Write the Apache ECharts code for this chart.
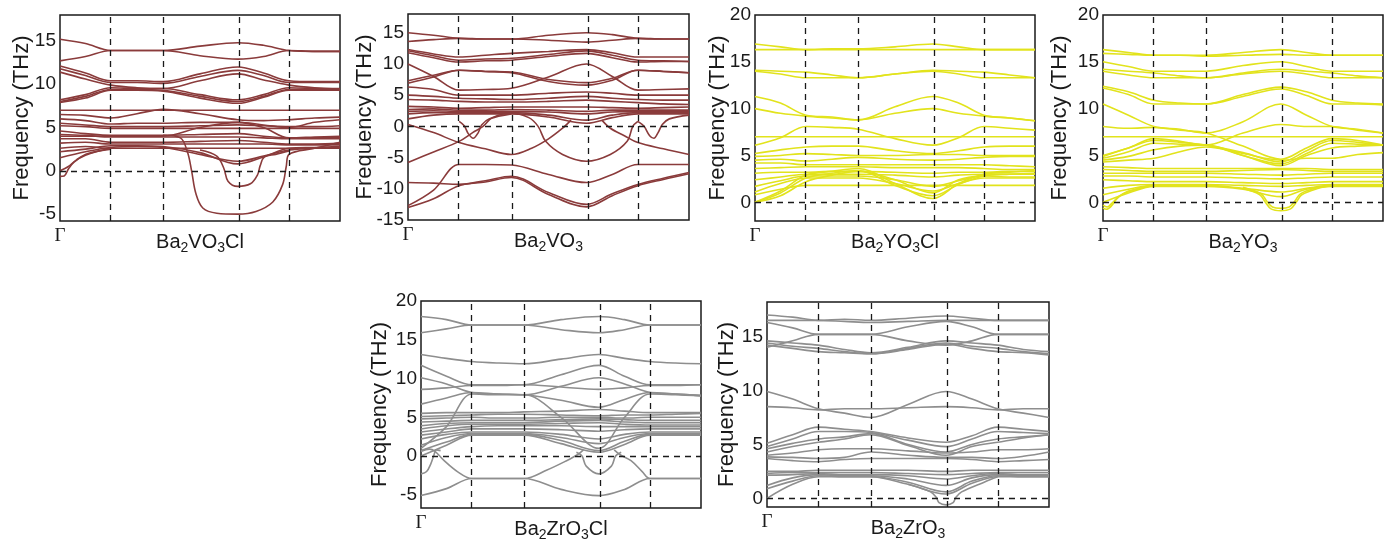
<!DOCTYPE html>
<html><head><meta charset="utf-8">
<script src="https://cdn.jsdelivr.net/npm/echarts@6/dist/echarts.min.js"></script>
<style>html,body{margin:0;padding:0;background:#fff}#c{width:1385px;height:544px}</style>
</head><body><div id="c"></div>
<script>
// k-path sample positions (fraction of path) and high-symmetry positions
const K = [0, 0.091, 0.182, 0.275, 0.368, 0.5, 0.635, 0.727, 0.818, 0.909, 1.0];
const kTicks = [0.182, 0.368, 0.635, 0.818];
const kLabel = ['Γ'];

// ---- Ba2VO3Cl ----
const p1Bands = [
[15.2,14.7,13.9,13.9,13.9,14.4,14.8,14.5,13.9,13.8,13.8],
[12.7,13.2,13.9,13.9,13.9,13.3,12.9,13.2,13.9,13.8,13.8],
[12.1,11.3,10.4,10.4,10.3,11.2,12.0,11.3,10.4,10.3,10.3],
[11.8,11.0,10.2,10.2,10.1,10.9,11.6,11.0,10.2,10.2,10.2],
[11.4,10.6,9.9,9.6,9.5,10.4,11.2,10.5,9.9,9.6,9.5],
[8.2,8.8,9.6,9.5,9.5,8.8,8.2,8.8,9.6,9.5,9.4],
[8.0,8.6,9.4,9.4,9.3,8.6,8.0,8.6,9.4,9.4,9.3],
[7.9,8.4,9.3,9.3,9.2,8.4,7.8,8.5,9.3,9.3,9.3],
[7.0,7.0,7.0,7.0,7.0,7.0,7.0,7.0,7.0,7.0,7.0],
[6.5,6.4,6.1,6.6,7.1,6.6,5.9,5.8,5.9,6.1,6.2],
[6.0,5.8,5.4,5.5,5.5,5.6,5.6,5.3,5.0,5.6,5.9],
[5.5,5.3,5.1,5.1,5.1,5.2,5.3,5.2,5.1,5.1,5.2],
[5.2,5.1,4.9,4.9,4.9,4.9,4.9,4.9,4.9,4.9,4.9],
[4.6,4.3,4.1,4.1,4.1,4.2,4.3,4.0,3.8,3.9,4.0],
[4.0,4.0,4.0,4.0,4.0,5.0,5.6,5.0,3.8,3.8,3.8],
[4.2,4.1,3.9,3.9,3.9,3.9,3.9,3.8,3.7,3.7,3.7],
[3.7,3.7,3.3,3.3,3.3,3.4,3.5,3.3,3.1,3.1,3.2],
[3.2,3.3,3.1,3.1,3.1,3.1,3.1,3.1,3.0,3.0,3.0],
[2.6,2.8,2.6,2.6,2.6,2.6,2.6,2.6,2.6,2.6,2.6],
[2.2,2.5,2.9,2.9,2.8,2.1,0.8,1.6,2.6,2.7,2.8],
[1.5,2.2,2.7,2.8,2.7,1.9,1.1,1.7,2.4,2.6,2.7]
];
const p1Extra = [
[[0,-0.65],[0.015,-0.6],[0.03,0.2],[0.05,1.0],[0.091,1.8],[0.182,2.6]],
[[0,0],[0.03,0.5],[0.06,1.3],[0.1,2.0],[0.182,2.5]],
[[0.368,4.1],[0.43,3.8],[0.455,2.2],[0.47,0],[0.485,-2.6],[0.51,-4.3],[0.56,-4.9],[0.635,-5.0],[0.7,-4.7],[0.76,-3.6],[0.795,-1.6],[0.808,0.5],[0.818,1.9],[0.909,2.6],[1.0,3.3]],
[[0.5,2.4],[0.56,1.7],[0.585,0.3],[0.6,-1.2],[0.635,-1.8],[0.68,-1.5],[0.705,-0.5],[0.715,0.6],[0.73,1.6],[0.77,1.9],[0.818,2.3]]
];

// ---- Ba2VO3 ----
const p2Bands = [
[15.0,14.6,14.1,14.0,14.0,14.6,15.0,14.7,14.1,14.0,14.0],
[13.6,13.9,14.1,14.0,14.0,13.8,13.5,13.8,14.1,14.0,14.0],
[12.3,11.6,11.1,11.4,11.7,12.0,12.3,11.8,11.1,11.1,11.1],
[12.1,11.3,10.6,10.8,10.9,11.5,12.1,11.4,10.6,10.5,10.4],
[11.8,11.0,10.3,10.5,10.6,11.2,11.7,11.0,10.3,10.4,10.4],
[10.0,8.0,5.8,5.9,6.1,7.9,10.0,8.0,5.8,5.9,6.0],
[7.3,8.2,9.0,8.8,8.7,7.5,7.0,7.7,9.0,8.8,8.6],
[6.9,7.9,9.0,8.8,8.6,7.2,6.6,7.4,9.0,8.8,8.6],
[6.3,5.9,5.0,5.0,5.0,5.3,5.5,5.3,5.0,5.0,5.0],
[5.0,4.8,4.5,4.4,4.3,4.5,4.8,4.5,4.3,4.2,4.2],
[4.3,4.2,4.0,3.9,3.9,4.0,4.2,4.0,3.8,3.6,3.5],
[3.2,3.1,2.9,3.0,3.1,3.1,3.1,3.0,2.9,3.0,3.1],
[2.7,2.8,2.6,2.6,2.7,2.6,2.4,2.6,2.6,2.6,2.6],
[2.4,2.5,2.4,2.4,2.4,2.3,2.0,2.3,2.4,2.4,2.4],
[2.0,2.2,2.2,2.2,2.2,1.8,1.0,1.8,2.2,2.2,2.2],
[1.2,1.8,2.0,2.0,2.0,1.5,0.5,1.4,2.0,2.0,2.0],
[-12.7,-10.2,-6.1,-6.1,-6.2,-7.7,-9.0,-7.7,-6.1,-6.1,-6.1],
[-9.0,-9.1,-9.3,-8.7,-8.0,-10.6,-12.5,-10.8,-9.3,-8.3,-7.4],
[-13.0,-11.6,-9.5,-8.9,-8.2,-10.9,-12.9,-11.1,-9.5,-8.5,-7.6]
];
const p2Extra = [
[[0,-5.8],[0.091,-4.1],[0.182,-2.4],[0.23,-1.0],[0.267,0],[0.3,1.4],[0.368,2.1],[0.43,1.4],[0.463,0],[0.49,-2.4],[0.55,-4.5],[0.635,-5.6],[0.72,-4.5],[0.78,-2.4],[0.8,0],[0.818,0.8]],
[[0,0.3],[0.091,-1.0],[0.182,-2.6],[0.275,-3.6],[0.368,-4.5],[0.44,-3.5],[0.5,-2.0],[0.55,-0.3],[0.58,1.0]],
[[0.69,1.0],[0.72,-0.3],[0.77,-1.5],[0.818,-2.6],[0.909,-3.6],[1.0,-4.5]],
[[0.182,0.8],[0.2,0.1],[0.215,-1.2],[0.232,-1.9],[0.25,-1.0],[0.262,0.2],[0.29,1.2],[0.368,2.0]],
[[0.818,0.8],[0.84,0],[0.86,-1.5],[0.875,-1.9],[0.89,-1.0],[0.905,0.3],[0.93,1.2],[1.0,1.8]]
];

// ---- Ba2YO3Cl ----
const p3Bands = [
[16.9,16.6,16.3,16.4,16.4,16.6,16.9,16.6,16.3,16.3,16.3],
[16.3,16.3,16.3,16.3,16.3,16.3,16.3,16.3,16.3,16.3,16.3],
[14.1,14.0,13.9,13.6,13.3,13.7,14.1,14.0,13.9,13.6,13.3],
[14.0,13.7,13.3,13.3,13.3,13.7,14.0,13.7,13.3,13.3,13.3],
[11.3,10.6,9.3,9.1,8.8,10.2,11.3,10.6,9.3,9.0,8.7],
[10.0,9.5,9.2,9.0,8.8,9.5,10.0,9.5,9.2,9.0,8.7],
[6.1,6.9,8.1,8.0,7.8,6.8,6.1,6.9,8.1,7.9,7.7],
[7.0,7.0,7.0,7.0,7.0,7.0,7.0,7.0,7.0,7.0,7.0],
[5.2,5.6,5.9,6.0,6.0,5.5,5.2,5.5,5.9,6.0,6.0],
[4.9,5.0,5.2,5.1,5.0,5.0,5.1,5.1,5.0,5.0,5.0],
[4.5,4.6,4.4,4.6,4.8,4.6,4.5,4.6,4.8,4.9,4.9],
[4.2,4.2,4.0,4.0,4.0,4.0,4.0,4.0,4.0,3.9,3.8],
[3.6,3.7,3.8,3.8,3.8,3.7,3.7,3.7,3.6,3.5,3.5],
[3.1,3.2,3.2,3.3,3.3,3.2,3.1,3.2,3.2,3.3,3.3],
[2.4,2.7,3.0,3.0,3.0,2.9,2.7,2.9,3.0,3.0,3.0],
[1.7,2.3,2.8,2.8,2.8,2.4,1.7,2.3,2.8,2.7,2.7],
[1.1,2.0,2.6,2.6,2.6,2.0,1.2,2.0,2.6,2.6,2.6],
[0.8,1.4,1.8,1.8,1.8,1.8,1.8,1.8,1.8,1.8,1.8],
[0.0,1.2,2.9,3.3,3.6,2.0,0.4,2.0,3.0,3.2,3.4],
[0.0,1.0,2.6,3.1,3.4,1.8,0.7,1.9,2.8,3.0,3.1],
[0.0,0.7,2.2,2.9,3.3,2.4,1.0,2.4,2.9,3.0,3.0]
];
const p3Extra = [];

// ---- Ba2YO3 ----
const p4Bands = [
[16.3,16.0,15.7,15.7,15.7,16.0,16.3,16.0,15.7,15.7,15.7],
[15.9,15.8,15.7,15.7,15.6,15.7,15.8,15.7,15.7,15.7,15.7],
[15.0,14.5,14.0,14.0,14.0,14.6,15.0,14.5,14.0,14.0,14.0],
[14.2,14.0,13.8,13.5,13.3,13.8,14.2,14.0,13.8,13.5,13.3],
[14.0,13.6,13.3,13.3,13.3,13.7,14.0,13.7,13.3,13.3,13.3],
[12.4,11.8,10.9,10.6,10.5,11.5,12.3,11.8,10.9,10.6,10.5],
[12.2,11.5,10.5,10.5,10.5,11.3,12.1,11.4,10.5,10.5,10.4],
[10.5,9.3,8.1,7.8,7.4,8.6,10.5,9.3,8.1,7.8,7.4],
[8.1,7.9,8.0,7.7,7.4,6.0,4.6,5.8,6.8,6.6,6.1],
[5.0,5.8,6.8,6.5,6.1,7.4,8.3,8.1,8.1,7.7,7.4],
[7.0,7.0,7.0,7.0,7.0,7.0,7.0,7.0,7.0,7.0,7.0],
[4.9,5.8,6.6,6.4,6.1,5.3,4.3,5.5,6.6,6.4,6.1],
[4.7,5.4,6.3,6.2,6.1,5.0,4.1,5.2,6.3,6.2,6.1],
[4.5,4.9,5.6,6.0,6.1,5.0,3.9,5.0,5.8,6.0,6.1],
[4.3,4.5,4.7,5.4,5.9,5.2,4.5,4.7,4.7,5.1,5.3],
[3.8,3.7,3.6,3.6,3.6,3.6,3.6,3.6,3.5,3.5,3.5],
[3.5,3.4,3.3,3.3,3.3,3.4,3.5,3.4,3.3,3.3,3.3],
[3.1,3.1,3.1,3.1,3.1,3.0,2.9,3.0,3.1,3.1,3.1],
[2.8,2.8,2.7,2.7,2.7,2.6,2.5,2.6,2.7,2.7,2.7],
[2.4,2.3,2.2,2.2,2.2,2.1,2.0,2.1,2.2,2.2,2.2],
[1.5,1.8,1.9,1.9,1.9,1.8,1.7,1.8,1.9,1.9,1.9],
[0.8,1.4,1.8,1.8,1.8,1.5,1.1,1.5,1.8,1.8,1.8],
[0.0,1.0,1.7,1.7,1.7,1.4,0.6,1.4,1.7,1.7,1.7]
];
const p4Extra = [
[[0,-0.6],[0.012,-0.75],[0.03,-0.4],[0.05,0.4],[0.091,1.2],[0.182,1.8]],
[[0,-0.3],[0.015,-0.5],[0.035,0],[0.06,0.7],[0.12,1.4],[0.182,1.9]],
[[0.5,1.5],[0.56,0.8],[0.58,0],[0.6,-0.7],[0.635,-0.9],[0.67,-0.7],[0.69,0],[0.71,0.8],[0.77,1.5],[0.818,1.8]],
[[0.5,1.6],[0.565,0.9],[0.585,0.1],[0.605,-0.5],[0.635,-0.65],[0.665,-0.5],[0.685,0.1],[0.705,0.9],[0.77,1.6],[0.818,1.9]]
];

// ---- Ba2ZrO3Cl ----
const p5Bands = [
[18.0,17.6,16.9,16.9,16.9,17.6,18.0,17.6,16.9,16.9,16.9],
[15.9,16.4,16.9,16.9,16.9,16.3,15.9,16.3,16.9,16.9,16.9],
[13.1,12.6,12.2,12.0,11.9,12.5,13.1,12.6,12.2,12.0,11.9],
[11.7,10.3,9.2,9.2,9.2,10.5,11.7,10.3,9.2,9.2,9.2],
[10.1,9.3,8.2,8.0,7.9,9.0,10.1,9.3,8.2,8.0,7.8],
[8.6,8.8,9.1,9.1,9.2,8.9,8.6,8.8,9.1,9.1,9.2],
[6.7,7.5,8.2,8.0,7.9,7.2,6.3,7.3,8.2,8.0,7.8],
[1.0,3.8,8.0,7.9,7.9,5.0,1.0,5.0,8.0,7.9,7.8],
[5.5,5.6,5.6,5.6,5.7,5.8,6.0,5.8,5.6,5.6,5.6],
[5.1,5.2,5.3,5.4,5.4,5.3,5.2,5.3,5.3,5.4,5.5],
[4.8,4.9,5.0,4.9,4.9,5.0,5.0,4.9,5.0,5.0,5.0],
[4.4,4.5,4.6,4.6,4.6,4.7,4.8,4.7,4.6,4.6,4.6],
[3.9,4.2,4.3,4.3,4.3,4.5,4.6,4.4,4.3,4.3,4.3],
[3.5,3.9,4.1,4.1,4.1,4.2,4.3,4.1,4.0,4.0,4.0],
[3.1,3.5,3.8,3.9,3.9,3.9,3.8,3.8,3.8,3.8,3.8],
[2.7,3.1,3.5,3.5,3.5,3.4,3.2,3.4,3.5,3.5,3.5],
[2.2,2.8,3.1,3.1,3.1,2.8,2.2,2.8,3.1,3.1,3.1],
[1.4,2.4,2.9,2.9,2.9,2.4,1.6,2.4,2.9,2.9,2.9],
[0.7,1.8,2.8,2.8,2.8,2.0,0.7,1.9,2.8,2.8,2.8],
[0.0,1.4,2.7,2.7,2.7,1.6,0.5,1.5,2.7,2.7,2.7],
[-5.1,-4.2,-2.9,-2.9,-2.9,-4.3,-5.1,-4.3,-2.9,-2.9,-2.9]
];
const p5Extra = [
[[0,-2.3],[0.02,-2.0],[0.035,-1.0],[0.045,0],[0.055,0.8],[0.07,0.7]],
[[0,0.6],[0.03,0.9],[0.05,0.6],[0.08,-0.5],[0.13,-2.0],[0.182,-2.9],[0.275,-2.9],[0.368,-2.9],[0.45,-1.8],[0.52,-0.6],[0.56,0.2],[0.58,0.8]],
[[0.69,0.8],[0.71,0.2],[0.75,-0.6],[0.79,-2.0],[0.818,-2.9],[0.909,-2.9],[1.0,-2.9]],
[[0.555,0.5],[0.575,0],[0.59,-1.3],[0.635,-2.3],[0.68,-1.3],[0.695,0],[0.715,0.5]]
];

// ---- Ba2ZrO3 ----
const p6Bands = [
[17.0,16.8,16.5,16.6,16.5,16.7,16.9,16.7,16.5,16.5,16.5],
[16.5,16.5,16.5,16.4,16.3,16.4,16.5,16.5,16.5,16.5,16.5],
[16.3,15.8,15.2,15.2,15.2,15.9,16.4,15.9,15.2,15.2,15.2],
[14.0,14.6,15.2,15.2,15.2,14.6,14.2,14.6,15.2,15.2,15.2],
[14.6,14.4,14.2,13.8,13.5,14.0,14.6,14.4,14.2,13.8,13.6],
[14.4,14.1,13.9,13.6,13.4,13.9,14.4,14.1,13.9,13.6,13.4],
[14.2,13.9,13.6,13.5,13.4,13.8,14.3,13.9,13.6,13.5,13.3],
[9.9,9.2,8.3,7.9,7.5,8.7,9.9,9.2,8.3,7.9,7.5],
[8.5,8.4,8.2,8.3,8.3,8.4,8.5,8.4,8.2,8.3,8.3],
[5.1,5.9,6.6,6.4,6.2,5.6,5.2,5.8,6.6,6.4,6.2],
[4.8,5.5,6.2,6.2,6.1,5.4,4.8,5.5,6.2,6.1,6.0],
[4.6,5.1,5.5,5.7,6.0,5.0,4.3,5.0,5.5,5.7,5.9],
[4.3,4.8,5.2,5.5,5.9,4.9,4.0,4.8,5.2,5.6,5.9],
[4.0,4.2,4.5,4.6,4.6,4.4,4.2,4.3,4.5,4.5,4.6],
[3.85,3.8,3.7,3.8,4.3,4.0,3.8,3.8,3.7,3.9,4.3],
[3.7,3.5,3.4,3.6,3.7,3.7,3.7,3.6,3.4,3.5,3.6],
[2.5,2.5,2.6,2.6,2.6,2.6,2.5,2.6,2.6,2.6,2.6],
[2.3,2.4,2.4,2.4,2.4,2.3,2.2,2.3,2.4,2.4,2.4],
[2.15,2.2,2.3,2.2,2.2,2.1,1.8,2.1,2.3,2.2,2.2],
[1.2,1.9,2.2,2.1,2.1,1.8,1.2,1.9,2.2,2.1,2.1],
[0.9,1.6,2.1,2.0,2.0,1.5,0.6,1.6,2.1,2.0,2.0],
[0.0,1.3,2.0,2.0,2.0,1.3,0.4,1.4,2.0,2.0,2.0]
];
const p6Extra = [
[[0.5,1.3],[0.58,0.6],[0.6,0.1],[0.61,-0.4],[0.635,-0.6],[0.66,-0.4],[0.67,0.1],[0.69,0.6],[0.77,1.5],[0.818,2.0]]
];

// tick labels & names
const yTicks1 = [-5,0,5,10,15];
const yTicks2 = [-15,-10,-5,0,5,10,15];
const yTicks3 = [0,5,10,15,20];
const yTicks5 = [-5,0,5,10,15,20];
const yTicks6 = [0,5,10,15];
const names = ['Ba{s|2}VO{s|3}Cl','Ba{s|2}VO{s|3}','Ba{s|2}YO{s|3}Cl','Ba{s|2}YO{s|3}','Ba{s|2}ZrO{s|3}Cl','Ba{s|2}ZrO{s|3}'];
const yName = 'Frequency (THz)';

const BROWN = '#8a3b3b', YEL = '#e2e31c', GRAY = '#8e8e8e';
const FONT = 'Liberation Sans, Arial, sans-serif';

const panels = [
 {bands:p1Bands, extra:p1Extra, color:BROWN, min:-5.8, max:18, ticks:yTicks1, name:names[0], box:[60,15,280,206], ng:27},
 {bands:p2Bands, extra:p2Extra, color:BROWN, min:-15, max:18, ticks:yTicks2, name:names[1], box:[408,14,281,206], ng:32},
 {bands:p3Bands, extra:p3Extra, color:YEL, min:-2, max:20, ticks:yTicks3, name:names[2], box:[755,15,280,206], ng:26},
 {bands:p4Bands, extra:p4Extra, color:YEL, min:-2, max:20, ticks:yTicks3, name:names[3], box:[1103,15,280,206], ng:32},
 {bands:p5Bands, extra:p5Extra, color:GRAY, min:-6.7, max:20, ticks:yTicks5, name:names[4], box:[421,301,280,207], ng:30},
 {bands:p6Bands, extra:p6Extra, color:GRAY, min:-0.8, max:18.2, ticks:yTicks6, name:names[5], box:[767,302,282,205], ng:29}
];

const grid=[], xAxis=[], yAxis=[], series=[];
panels.forEach((p,i)=>{
  grid.push({left:p.box[0], top:p.box[1], width:p.box[2], height:p.box[3], show:true, borderColor:'#1a1a1a', borderWidth:1.5, backgroundColor:'transparent', containLabel:false, outerBoundsMode:'none'});
  xAxis.push({gridIndex:i, type:'value', min:0, max:1,
    axisLine:{show:false}, axisTick:{show:false}, splitLine:{show:false},
    axisLabel:{customValues:[0], formatter:()=>kLabel[0], fontFamily:'Liberation Serif, Times New Roman, serif', fontSize:19, color:'#1a1a1a', margin:6},
    name:p.name, nameLocation:'middle', nameGap:8, nameMoveOverlap:false,
    nameTextStyle:{fontSize:20, color:'#1a1a1a', fontFamily:FONT, rich:{s:{fontSize:14, color:'#1a1a1a', fontFamily:FONT, padding:[12,0,0,0]}}}
  });
  yAxis.push({gridIndex:i, type:'value', min:p.min, max:p.max,
    axisLine:{show:false}, axisTick:{show:false}, splitLine:{show:false},
    axisLabel:{customValues:p.ticks, fontSize:19, color:'#1a1a1a', fontFamily:FONT, margin:4},
    name:yName, nameLocation:'middle', nameGap:p.ng, nameRotate:90, nameMoveOverlap:false,
    nameTextStyle:{fontSize:22, color:'#1a1a1a', fontFamily:FONT}
  });
  const lines = p.bands.map(b=>K.map((k,j)=>[k,b[j]])).concat(p.extra);
  lines.forEach((d,j)=>{
    const s = {type:'line', xAxisIndex:i, yAxisIndex:i, data:d, showSymbol:false, symbol:'none', smooth:0.35,
      lineStyle:{color:p.color, width:1.6}, silent:true, animation:false, z:3};
    if(j===0){
      s.markLine = {silent:true, symbol:'none', animation:false, label:{show:false},
        lineStyle:{color:'#1a1a1a', type:[6,5], width:1.3},
        data: kTicks.map(k=>({xAxis:k})).concat([{yAxis:0}])};
    }
    series.push(s);
  });
});

const chart = echarts.init(document.getElementById('c'), null, {renderer:'canvas'});
chart.setOption({animation:false, backgroundColor:'#fff', grid, xAxis, yAxis, series});
</script>
</body></html>
